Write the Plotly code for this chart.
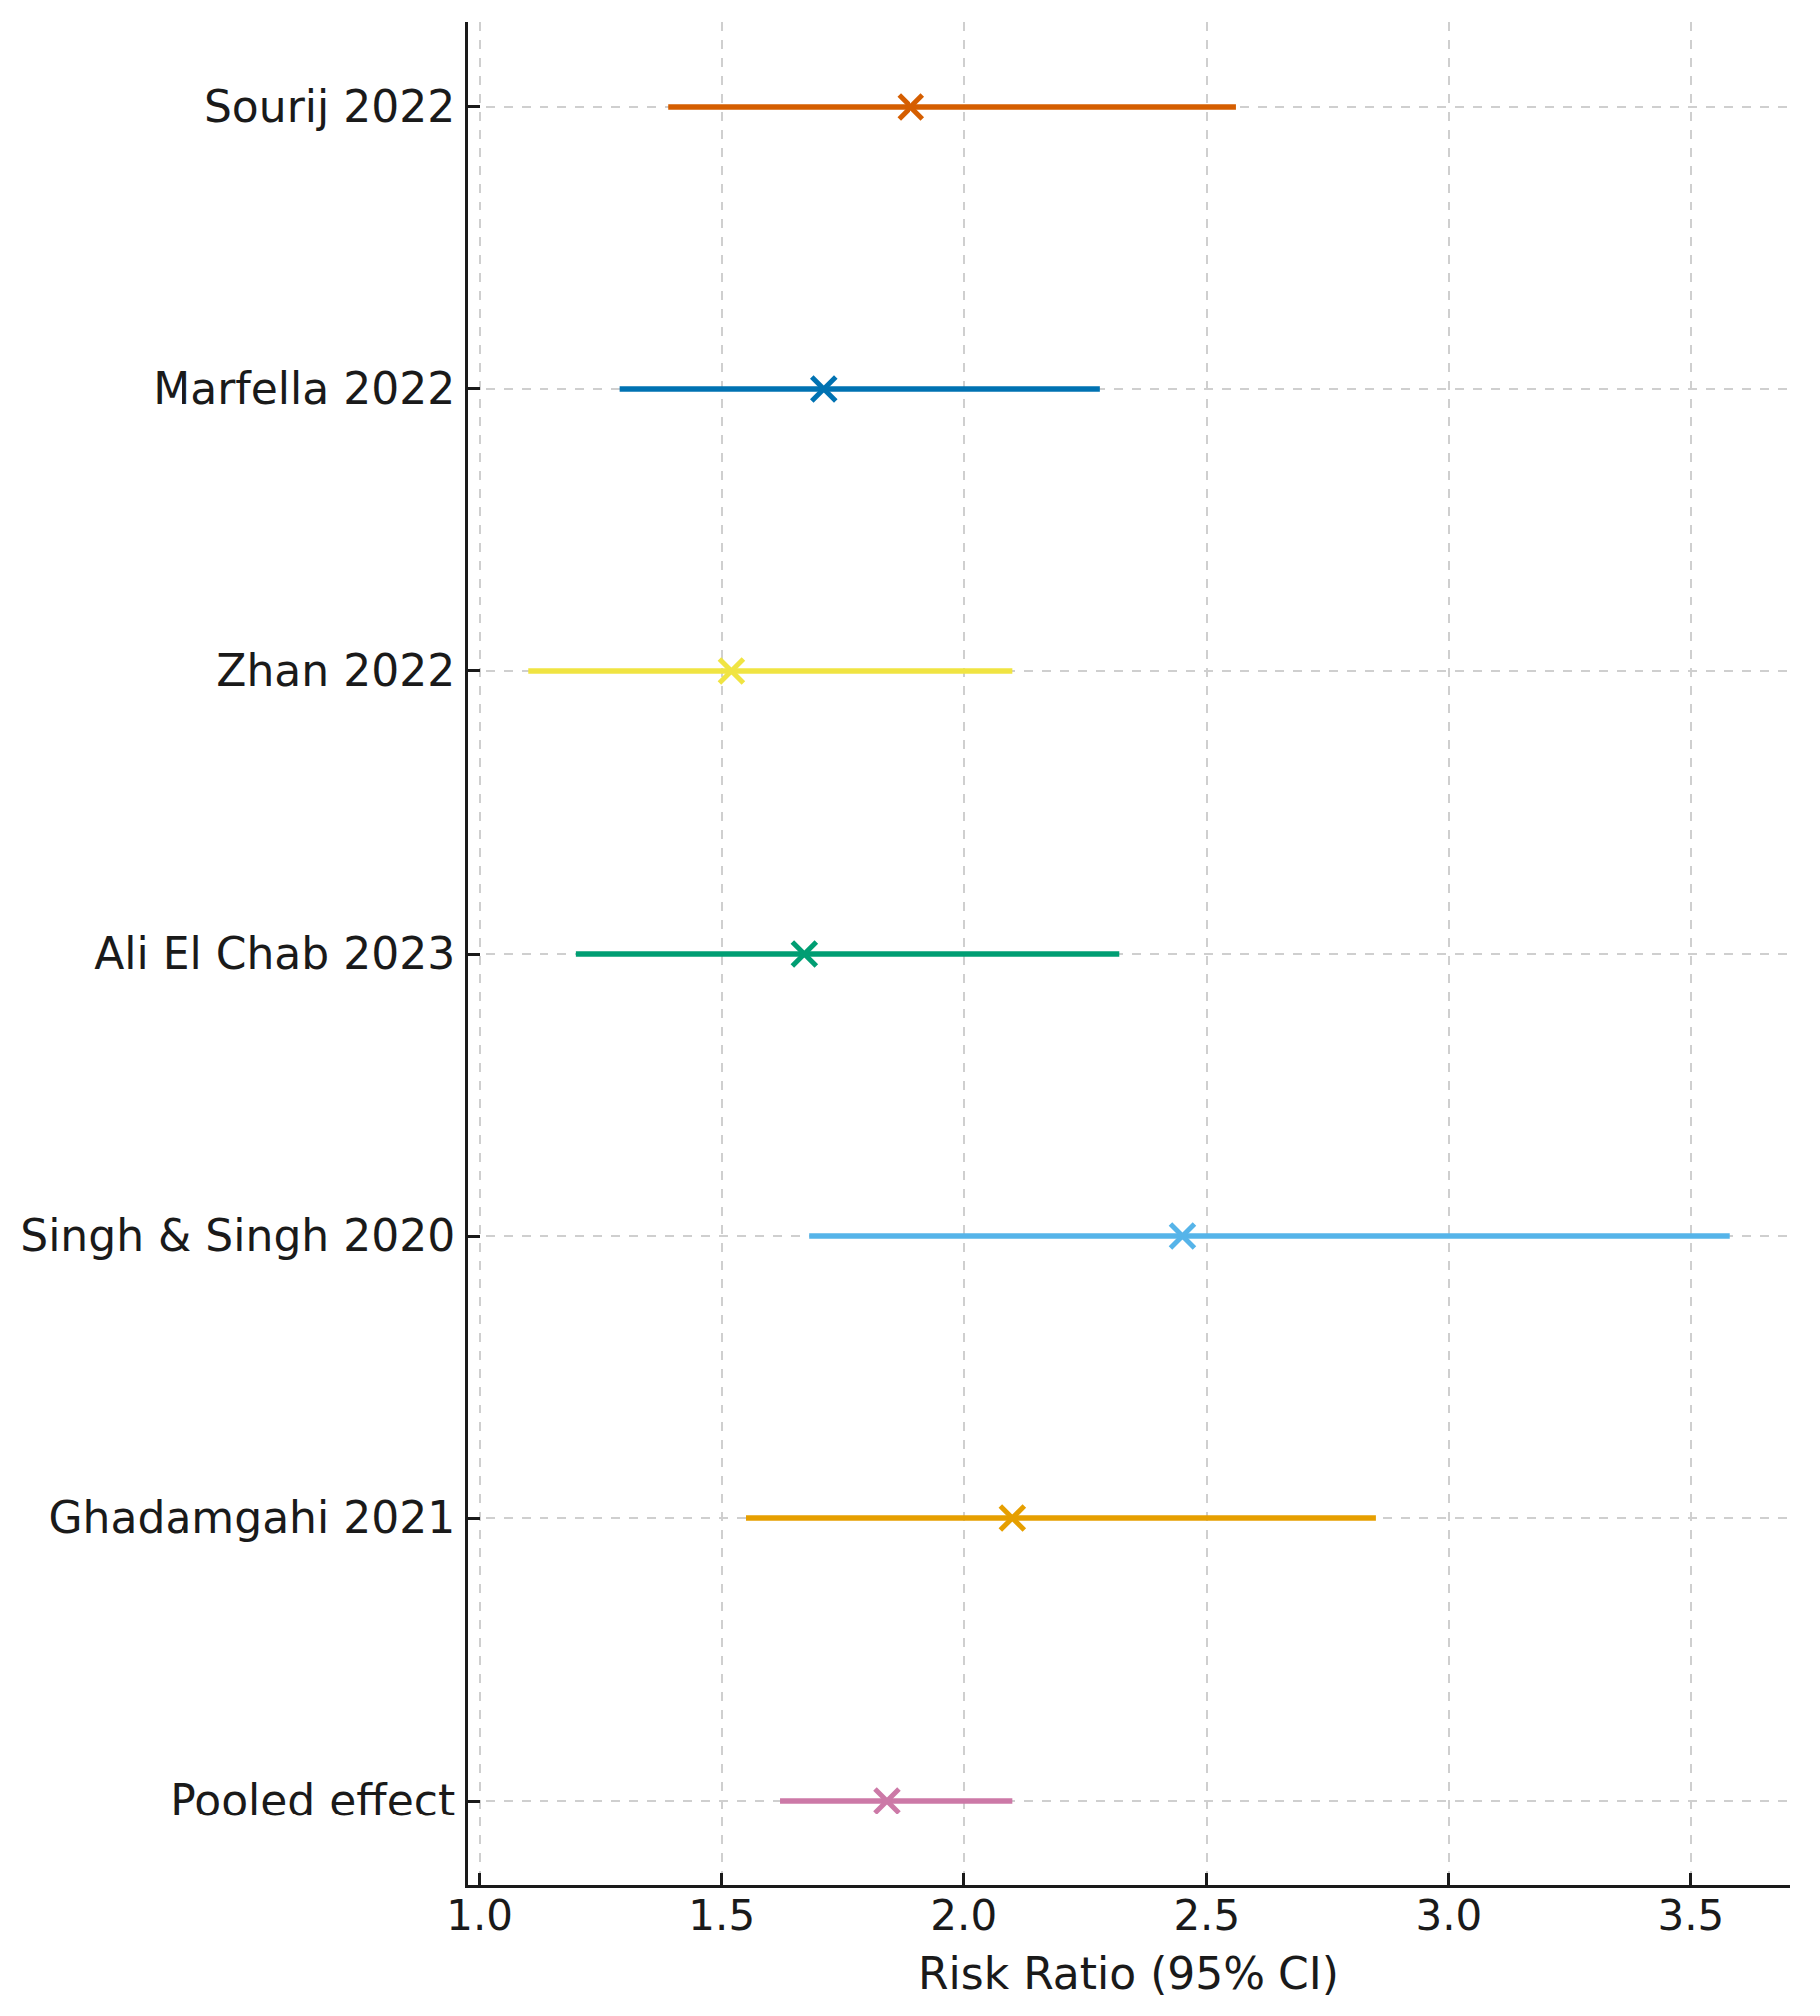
import plotly.graph_objects as go

# Studies (top to bottom) with risk ratios and 95% CI
studies = ["Sourij 2022", "Marfella 2022", "Zhan 2022", "Ali El Chab 2023",
           "Singh & Singh 2020", "Ghadamgahi 2021", "Pooled effect"]
risk_ratio = [1.89, 1.71, 1.52, 1.67, 2.45, 2.10, 1.84]
ci_low = [1.39, 1.29, 1.10, 1.20, 1.68, 1.55, 1.62]
ci_high = [2.56, 2.28, 2.10, 2.32, 3.58, 2.85, 2.10]
colors = ["#D55E00", "#0072B2", "#F0E442", "#009E73", "#56B4E9", "#E69F00", "#CC79A7"]

fig = go.Figure()

for name, rr, lo, hi, col in zip(studies, risk_ratio, ci_low, ci_high, colors):
    fig.add_trace(go.Scatter(
        x=[rr],
        y=[name],
        mode="markers",
        marker=dict(symbol="x-thin", size=24, color=col, line=dict(color=col, width=5)),
        error_x=dict(type="data", symmetric=False, array=[hi - rr], arrayminus=[rr - lo],
                     color=col, thickness=5.5, width=0),
        showlegend=False,
    ))

font_main = dict(family="DejaVu Sans", size=44, color="#1a1a1a")

fig.update_layout(
    width=1825,
    height=2021,
    paper_bgcolor="white",
    plot_bgcolor="white",
    margin=dict(l=461, r=38, t=14, b=139),
    font=font_main,
    xaxis=dict(
        range=[0.976, 3.704],
        tickvals=[1.0, 1.5, 2.0, 2.5, 3.0, 3.5],
        ticktext=["1.0", "1.5", "2.0", "2.5", "3.0", "3.5"],
        tickfont=dict(family="DejaVu Sans", size=42, color="#1a1a1a"),
        showgrid=True, gridcolor="#cfcfcf", griddash="dash", gridwidth=1.5,
        showline=True, linecolor="#1a1a1a", linewidth=3,
        ticks="inside", ticklen=12, tickwidth=2.5, tickcolor="#1a1a1a",
        zeroline=False,
        ticklabelstandoff=-8,
        title=dict(text="Risk Ratio (95% CI)", font=font_main, standoff=19),
    ),
    yaxis=dict(
        type="category",
        categoryorder="array",
        categoryarray=studies,
        range=[len(studies) - 1 + 0.3, -0.3],
        showgrid=True, gridcolor="#cfcfcf", griddash="dash", gridwidth=1.5,
        showline=True, linecolor="#1a1a1a", linewidth=3,
        ticks="inside", ticklen=12, tickwidth=2.5, tickcolor="#1a1a1a",
        zeroline=False,
        ticklabelstandoff=1,
    ),
)

fig.write_html("out.html")
